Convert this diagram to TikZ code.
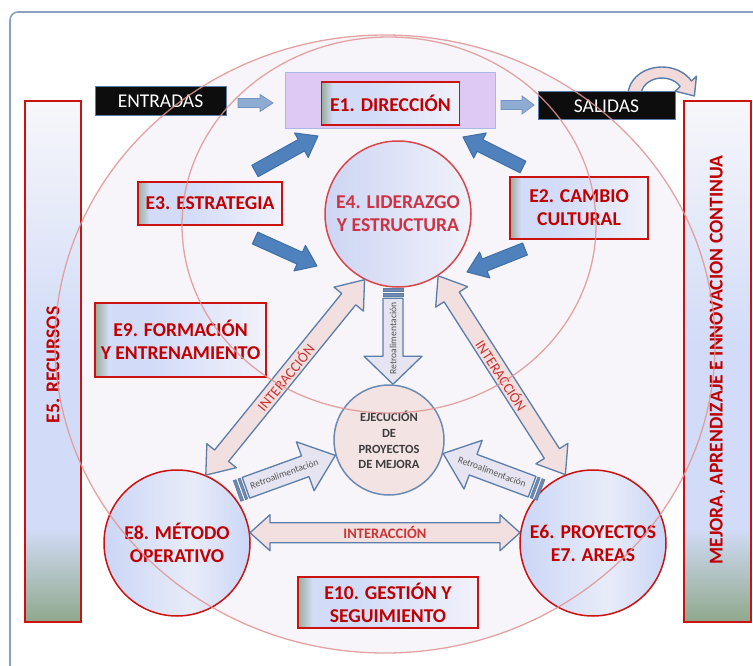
\documentclass[tikz,border=0pt]{standalone}
\usepackage{fontspec}
\setmainfont{Carlito}
\usetikzlibrary{calc}

% palette
\definecolor{redtxt}{HTML}{C00000}
\definecolor{redline}{HTML}{CC1111}
\definecolor{e4line}{HTML}{D9464C}
\definecolor{e4txt}{HTML}{CC3344}
\definecolor{ringline}{HTML}{E09494}
\definecolor{ringfill}{HTML}{F7F5F9}
\definecolor{framec}{HTML}{8CA0C0}
\definecolor{steel}{HTML}{5B7DAA}
\definecolor{bluearr}{HTML}{4F81BD}
\definecolor{bluearrline}{HTML}{3F6FA8}
\definecolor{lightarr}{HTML}{8EABD2}
\definecolor{lightarrline}{HTML}{7393C2}
\definecolor{pinkarr}{HTML}{F2E0E0}
\definecolor{retroarr}{HTML}{E6E4F0}
\definecolor{stripe}{HTML}{7189AE}
\definecolor{dirfill}{HTML}{DDC9F3}
\definecolor{dirline}{HTML}{A9B9E3}
\definecolor{ebgreen}{HTML}{9AAC9A}
\definecolor{ebblue}{HTML}{D2DCF8}
\definecolor{ebwhite}{HTML}{F1F1FA}
\definecolor{bargreen}{HTML}{8FA88C}
\definecolor{barwhite}{HTML}{F7F7FA}
\definecolor{ejfill}{HTML}{F3E3E3}
\definecolor{ejline}{HTML}{6B8BB5}
\definecolor{ejtxt}{HTML}{3C3C3C}
\definecolor{retrotxt}{HTML}{555555}
\definecolor{intertxt}{HTML}{CC3333}
\definecolor{c4a}{HTML}{CDD5F3}
\definecolor{c4b}{HTML}{F0F1FA}
\definecolor{csa}{HTML}{CBD6F6}
\definecolor{csb}{HTML}{E8ECF9}
\definecolor{curvefill}{HTML}{F2DADA}

% fills
\pgfdeclarehorizontalshading{eboxshade}{100bp}{color(0bp)=(ebgreen); color(25bp)=(ebgreen); color(29bp)=(ebblue); color(42bp)=(ebblue); color(75bp)=(ebwhite); color(100bp)=(ebwhite)}
\pgfdeclareverticalshading{barshade}{100bp}{color(0bp)=(bargreen); color(25bp)=(bargreen); color(34bp)=(ebblue); color(52bp)=(ebblue); color(75bp)=(barwhite); color(100bp)=(barwhite)}
\pgfdeclarehorizontalshading{e4shade}{100bp}{color(0bp)=(c4a); color(25bp)=(c4a); color(75bp)=(c4b); color(100bp)=(c4b)}
\pgfdeclarehorizontalshading{sideshade}{100bp}{color(0bp)=(csa); color(25bp)=(csa); color(55bp)=(csb); color(75bp)=(csa); color(100bp)=(csa)}

\newcommand{\lblfont}{\bfseries\fontsize{19.6}{23}\selectfont}

% local frame along a connector: origin at the first point, x axis towards the second
\newcommand{\arrowframe}[2]{%
  \path let \p1=(#1), \p2=(#2),
     \n1={atan2(\y2-\y1,\x2-\x1)}, \n2={veclen(\x2-\x1,\y2-\y1)} in
     \pgfextra{\xdef\fraang{\n1}\xdef\fralen{\n2}\xdef\frax{\x1}\xdef\fray{\y1}};%
  \pgfmathsetmacro\fratxt{abs(\fraang)>89 ? \fraang+180 : \fraang}%
}
% block arrow: style, tail, tip, shaft half width, head half width, head length
\newcommand{\singlearrow}[6]{%
  \arrowframe{#2}{#3}%
  \begin{scope}[shift={(\frax,\fray)}, rotate=\fraang]
    \draw[#1] (0,#4) -- ({\fralen-#6},#4) -- ({\fralen-#6},#5) -- (\fralen,0)
      -- ({\fralen-#6},-#5) -- ({\fralen-#6},-#4) -- (0,-#4) -- cycle;
  \end{scope}}
% two-headed block arrow with a label along it
\newcommand{\doublearrow}[7]{%
  \arrowframe{#2}{#3}%
  \begin{scope}[shift={(\frax,\fray)}, rotate=\fraang]
    \draw[#1] (0,0) -- (#6,#5) -- (#6,#4) -- ({\fralen-#6},#4) -- ({\fralen-#6},#5) -- (\fralen,0)
      -- ({\fralen-#6},-#5) -- ({\fralen-#6},-#4) -- (#6,-#4) -- (#6,-#5) -- cycle;
    \node[interlbl, rotate=\fratxt] at ({\fralen/2},0) {#7};
  \end{scope}}
% block arrow with two bars at its tail and a label along it
\newcommand{\stripedarrow}[8]{%
  \arrowframe{#2}{#3}%
  \begin{scope}[shift={(\frax,\fray)}, rotate=\fraang]
    \draw[stripebar] (0,-#4) rectangle (3,#4);
    \draw[stripebar] (5,-#4) rectangle (7.5,#4);
    \draw[#1] (9.5,#4) -- ({\fralen-#6},#4) -- ({\fralen-#6},#5) -- (\fralen,0)
      -- ({\fralen-#6},-#5) -- ({\fralen-#6},-#4) -- (9.5,-#4) -- cycle;
    \node[retrolbl, rotate=\fratxt] at ({#8*\fralen},0) {#7};
  \end{scope}}

\tikzset{
  ebox/.style={draw=redline, line width=1.5pt, shading=eboxshade, text=redtxt,
    font=\lblfont, align=center, inner sep=0pt},
  sidebar/.style={draw=redline, line width=1.5pt, shading=barshade, inner sep=0pt},
  sidetext/.style={rotate=90, text=redtxt, font=\lblfont, inner sep=0pt},
  darkbox/.style={fill=black!95, draw=steel, line width=1pt, text=white,
    font=\fontsize{19.5}{21}\selectfont, inner sep=0pt},
  topcircle/.style={circle, draw=e4line, line width=1.5pt, shading=e4shade,
    text=e4txt, font=\lblfont, align=center, inner sep=0pt, minimum size=146pt},
  sidecircle/.style={circle, draw=redline, line width=1.5pt, shading=sideshade,
    text=redtxt, font=\lblfont, align=center, inner sep=0pt, minimum size=146pt},
  bluearrow/.style={fill=bluearr, draw=bluearrline, line width=1pt, line join=round},
  lightarrow/.style={fill=lightarr, draw=lightarrline, line width=0.8pt},
  pinkarrow/.style={fill=pinkarr, draw=steel, line width=1.3pt, line join=round},
  retroarrow/.style={fill=retroarr, draw=steel, line width=1.3pt, line join=round},
  stripebar/.style={fill=stripe, draw=steel, line width=0.6pt},
  interlbl/.style={text=intertxt, font=\fontsize{14.5}{16}\selectfont, inner sep=0pt},
  retrolbl/.style={text=retrotxt, font=\fontsize{9.6}{10}\selectfont, inner sep=0pt},
  ring/.style={draw=ringline, line width=1.3pt, opacity=0.85},
}

\begin{document}
\begin{tikzpicture}[x=1pt, y=-1pt]
\useasboundingbox (0,0) rectangle (753,666);
\begin{scope}
\clip (0,0) rectangle (753,666);
\fill[white] (0,0) rectangle (753,666);
% slide frame
\draw[framec, line width=1.6pt, rounded corners=8pt] (10,12) rectangle (800,720);

% large rings: filled background
\fill[ringfill] (385,344) ellipse [x radius=330, y radius=309];

% side bars
\node[sidebar, minimum width=56pt, minimum height=521pt] (e5) at (53,361.5) {};
\node[sidetext] at (53,365) {E5. RECURSOS};
\node[sidebar, minimum width=67pt, minimum height=521pt] (mej) at (717.5,361.5) {};
\node[sidetext] at (717.5,360) {MEJORA, APRENDIZAJE E INNOVACION CONTINUA};

% top row
\node[darkbox, minimum width=131pt, minimum height=29pt] (ent) at (160.5,101.5) {ENTRADAS};
\node[fill=dirfill, draw=dirline, line width=1pt, minimum width=210pt, minimum height=56pt] (dir) at (390,101) {};
\node[ebox, minimum width=138pt, minimum height=43pt] (e1) at (390.5,103.5) {E1. DIRECCIÓN};

% curved arrow leaving the outputs
\draw[fill=curvefill, draw=steel, line width=1.4pt, line join=round]
  (628,95) arc[start angle=180, end angle=330, x radius=34, y radius=28]
  -- (696.4,76.3) -- (694.4,96) -- (675.2,91.2) -- (680.2,86.5)
  arc[start angle=330, end angle=180, x radius=21, y radius=17] -- cycle;
\node[darkbox, minimum width=137pt, minimum height=28pt] (sal) at (606.5,106) {SALIDAS};

\coordinate (a1t) at (238,103);
\coordinate (a1h) at (273,103);
\coordinate (a2t) at (501,105);
\coordinate (a2h) at (534,105);
\singlearrow{lightarrow}{a1t}{a1h}{4.5}{8.5}{13}
\singlearrow{lightarrow}{a2t}{a2h}{4.5}{9}{12}

% element boxes
\node[ebox, minimum width=144pt, minimum height=43pt] (e3) at (210,203.5) {E3. ESTRATEGIA};
\node[ebox, minimum width=138pt, minimum height=62pt] (e2) at (579,208) {E2. CAMBIO\\CULTURAL};
\node[ebox, minimum width=171pt, minimum height=74pt] (e9) at (180.5,340) {E9. FORMACIÓN\\Y ENTRENAMIENTO};
\node[ebox, minimum width=180pt, minimum height=51pt] (e10) at (388,602.5) {E10. GESTIÓN Y\\SEGUIMIENTO};

% circles
\node[topcircle] (e4) at (398,214) {E4. LIDERAZGO\\Y ESTRUCTURA};
\node[sidecircle] (e8) at (177,543) {E8. MÉTODO\\OPERATIVO};
\node[sidecircle] (e6) at (593,543) {E6. PROYECTOS\\E7. AREAS};
\node[circle, fill=ejfill, draw=ejline, line width=1.5pt, minimum size=110pt, inner sep=0pt,
  text=ejtxt, font=\bfseries\fontsize{12.5}{15.7}\selectfont, align=center] (ej) at (389,440)
  {EJECUCIÓN\\DE\\PROYECTOS\\DE MEJORA};

% strategy and culture push towards direction and leadership
\coordinate (b1t) at (255,171);
\coordinate (b1h) at (318,136);
\coordinate (b2t) at (255,238);
\coordinate (b2h) at (317,266);
\coordinate (b3t) at (523,167);
\coordinate (b3h) at (463,137);
\coordinate (b4t) at (525,249);
\coordinate (b4h) at (467,272);
\singlearrow{bluearrow}{b1t}{b1h}{6.5}{14}{19}
\singlearrow{bluearrow}{b2t}{b2h}{6.5}{14}{19}
\singlearrow{bluearrow}{b3t}{b3h}{6.5}{14}{19}
\singlearrow{bluearrow}{b4t}{b4h}{6.5}{14}{19}

% interaction between the three circles
\doublearrow{pinkarrow}{e8.67}{e4.-117}{9}{19}{25}{INTERACCIÓN}
\doublearrow{pinkarrow}{e4.-57}{e6.112}{9}{19}{25}{INTERACCIÓN}
\doublearrow{pinkarrow}{e8.8}{e6.172}{10}{18}{20}{\bfseries INTERACCIÓN}

% feedback into the execution of projects
\coordinate (rv1) at ($(e4.south)+(-5,1)$);
\coordinate (rv2) at ($(ej.north)+(4,0)$);
\coordinate (rl1) at (237,491);
\coordinate (rr1) at (541,490);
\stripedarrow{retroarrow}{rv1}{rv2}{10}{29}{28}{Retroalimentación}{0.52}
\stripedarrow{retroarrow}{rl1}{ej.196}{11}{26}{32}{Retroalimentación}{0.48}
\stripedarrow{retroarrow}{rr1}{ej.-14}{11}{26}{32}{Retroalimentación}{0.5}

% ring outlines over everything
\draw[ring] (385,344) ellipse [x radius=330, y radius=309];
\draw[ring] (389,225) ellipse [x radius=207, y radius=188];
\end{scope}
\end{tikzpicture}
\end{document}
